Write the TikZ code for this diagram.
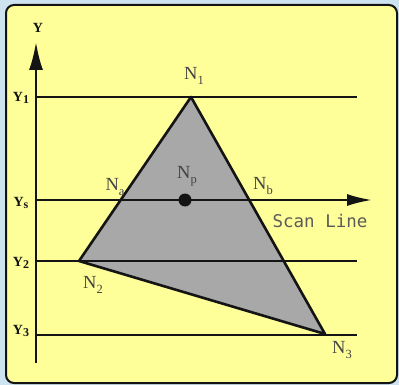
\documentclass[tikz,border=0pt]{standalone}
\usepackage{fontspec}
\setmainfont{Liberation Serif}
\newfontfamily\scanfont{DejaVu Sans Mono}
\usetikzlibrary{arrows.meta}
\definecolor{bgblue}{RGB}{205,227,240}
\definecolor{panel}{RGB}{255,255,153}
\definecolor{tri}{RGB}{168,168,168}
\definecolor{ink}{RGB}{20,20,20}
\newcommand\nsubtxt[1]{\raisebox{-0.28em}{\fontsize{12.5}{12.5}\selectfont #1}}
\newcommand\ysubtxt[1]{\raisebox{-0.15em}{\fontsize{12}{12}\selectfont #1}}
\tikzset{
  guide/.style={draw=ink, line width=1.2pt},
  edge/.style={draw=ink, line width=2.6pt, line join=round},
  nlab/.style={font=\fontsize{18.5}{18.5}\selectfont, text=ink!80, inner sep=0pt},
  ylab/.style={font=\bfseries\fontsize{14}{14}\selectfont, text=ink, inner sep=0pt},
}
\begin{document}
\begin{tikzpicture}[x=1pt,y=-1pt]
\useasboundingbox (0,0) rectangle (399,385);
\fill[bgblue] (0,0) rectangle (399,385);
\draw[fill=panel, draw=ink, line width=2pt, rounded corners=8pt] (6,5) rectangle (397,383);
% coordinates
\coordinate (N1) at (191,97);
\coordinate (N2) at (79,261);
\coordinate (N3) at (325,334);
\coordinate (axB) at (36,363);
\coordinate (axT) at (36,42);
\coordinate (y1L) at (36,97);
\coordinate (y1R) at (357,97);
\coordinate (ysL) at (36,200);
\coordinate (ysR) at (372,200);
\coordinate (y2L) at (36,261);
\coordinate (y2R) at (357,261);
\coordinate (y3L) at (36,335);
\coordinate (y3R) at (357,335);
% triangle
\fill[tri] (N1) -- (N2) -- (N3) -- cycle;
% guide lines
\draw[guide] (y1L) -- (y1R);
\draw[guide] (y2L) -- (y2R);
\draw[guide] (y3L) -- (y3R);
\draw[edge] (N1) -- (N2) -- (N3) -- cycle;
% scan line
\draw[draw=ink, line width=2.2pt, -{Latex[length=25pt,width=12pt]}] (ysL) -- (ysR);
% axis
\draw[draw=ink, line width=2.4pt, -{Latex[length=28pt,width=14pt]}] (axB) -- (axT);
% Np point
\node[circle, fill=ink, minimum size=13pt, inner sep=0pt] (Np) at (185,200) {};
% labels
\node[ylab] (lY) at (38,28) {Y};
\node[ylab] (lY1) at (21,98) {Y\ysubtxt{1}};
\node[ylab] (lYs) at (21,203) {Y\ysubtxt{s}};
\node[ylab] (lY2) at (21,263) {Y\ysubtxt{2}};
\node[ylab] (lY3) at (21,331) {Y\ysubtxt{3}};
\node[nlab] (lN1) at (194,76) {N\nsubtxt{1}};
\node[nlab] (lNa) at (115,187) {N\nsubtxt{a}};
\node[nlab] (lNp) at (187,176) {N\nsubtxt{p}};
\node[nlab] (lNb) at (263,186) {N\nsubtxt{b}};
\node[nlab] (lN2) at (93,285) {N\nsubtxt{2}};
\node[nlab] (lN3) at (342,350) {N\nsubtxt{3}};
\node[font=\scanfont\fontsize{17.5}{17.5}\selectfont, text=ink!70, inner sep=0pt] (lScan) at (320,221) {Scan Line};
\end{tikzpicture}
\end{document}
